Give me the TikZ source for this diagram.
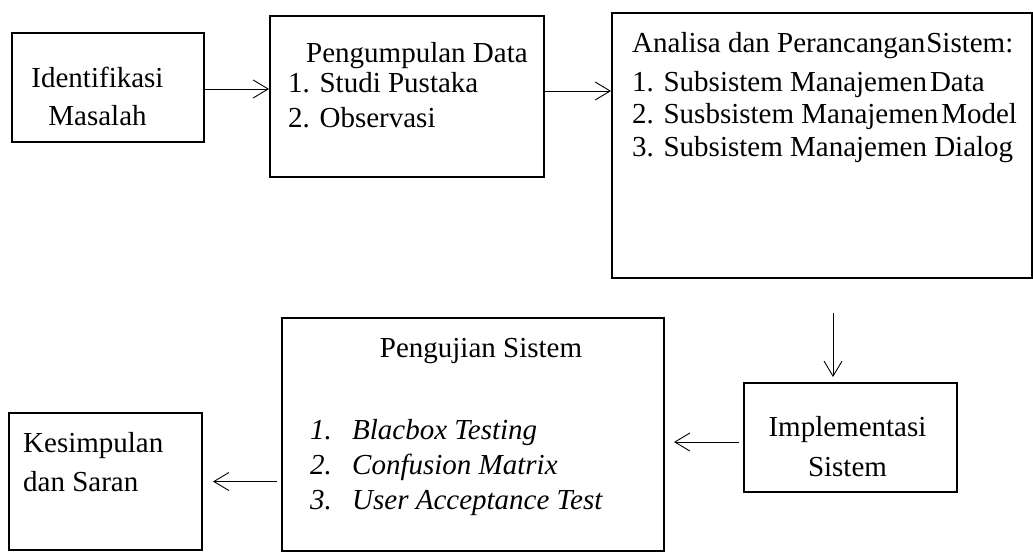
\documentclass[tikz,border=0pt]{standalone}
\usepackage{fontspec}
\setmainfont{Liberation Serif}
\usetikzlibrary{arrows.meta,positioning,calc}
\tikzset{
  box/.style={rectangle, draw, line width=2pt, inner sep=0pt},
  txt/.style={inner sep=0pt, align=left, font=\fontsize{29}{#1}\selectfont},
  txt/.default=38,
  arr/.style={-{Straight Barb[length=15pt,width=18pt]}, line width=0.9pt}
}

\begin{document}
\begin{tikzpicture}[x=1pt, y=-1pt]
  \useasboundingbox[fill=white] (0,0) rectangle (1033,554);
  \node[box, minimum width=192pt, minimum height=109pt] (idm) at (108,87.5) {};
  \node[box, minimum width=274pt, minimum height=161pt] (pd) at (407,96.5) {};
  \node[box, minimum width=420pt, minimum height=265pt] (aps) at (822,145.5) {};
  \node[box, minimum width=213pt, minimum height=109pt] (imp) at (850.5,437.5) {};
  \node[box, minimum width=382pt, minimum height=233pt] (uji) at (473,434.5) {};
  \node[box, minimum width=193pt, minimum height=137pt] (ks) at (105.5,481.5) {};
  \node[txt, align=center, anchor=base] (idmt) at (97.5,125) {Identifikasi\\Masalah};
  \node[txt, anchor=base west] (pdt) at (306,62) {Pengumpulan Data};
  \node[txt=35, anchor=base west] (pdl) at (288,127) {1. Studi Pustaka\\2. Observasi};
  \node[txt, anchor=base west] (apst) at (632,52) {Analisa dan Perancangan\kern1pt Sistem:};
  \node[txt=32.5, anchor=base west] (apsl) at (632,156)
    {1. Subsistem Manajemen\kern3pt Data\\2. Susbsistem Manajemen\kern3pt Model\\3. Subsistem Manajemen Dialog};
  \node[txt, anchor=base] (ujit) at (481,357) {Pengujian Sistem};
  \node[txt=35, anchor=base west, font=\fontsize{29}{35}\selectfont\itshape] (ujil) at (310,509)
    {\makebox[42pt][l]{1.}Blacbox Testing\\\makebox[42pt][l]{2.}Confusion Matrix\\\makebox[42pt][l]{3.}User Acceptance Test};
  \node[txt=40, align=center, anchor=base] (impt) at (847.5,476) {Implementasi\\Sistem};
  \node[txt=39, anchor=base west] (kst) at (23,491) {Kesimpulan\\dan Saran};
  \draw[arr] ([yshift=-1.5pt]idm.east) -- ([yshift=-1.5pt]idm.east -| pd.west);
  \draw[arr] ([yshift=5.5pt]pd.east) -- ([yshift=5.5pt]pd.east -| aps.west);
  \draw[arr, shorten <=34pt, shorten >=5pt] ([xshift=-17.5pt]imp.north |- aps.south) -- ([xshift=-17.5pt]imp.north);
  \draw[arr, shorten <=4pt, shorten >=9pt] ([yshift=-4.5pt]imp.west) -- ([yshift=-4.5pt]imp.west -| uji.east);
  \draw[arr, shorten <=4pt, shorten >=10pt] (uji.west |- ks.east) -- (ks.east);
\end{tikzpicture}
\end{document}
